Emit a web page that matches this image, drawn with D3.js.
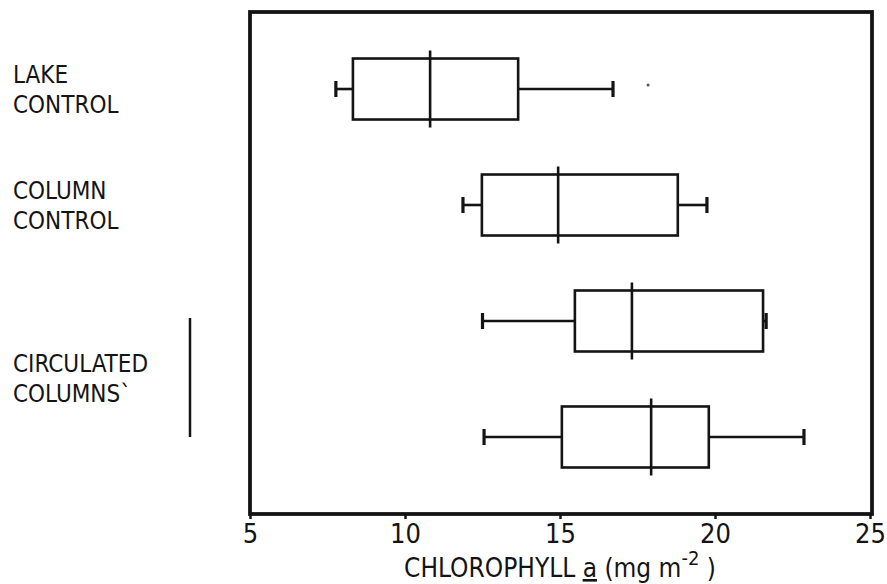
<!DOCTYPE html>
<html>
<head>
<meta charset="utf-8">
<script src="https://cdn.jsdelivr.net/npm/d3@7"></script>
<style>
  html, body { margin: 0; padding: 0; background: #fff; }
  svg text { font-family: "DejaVu Sans Condensed", "DejaVu Sans", sans-serif; font-stretch: condensed; fill: #141414; }
</style>
</head>
<body>
<svg id="chart" width="887" height="584"></svg>
<script>
// ---- data ----
const boxIds   = ["lake", "column", "circ1", "circ2"];
const whiskLo  = [7.77, 11.87, 12.50, 12.55];
const q1       = [8.32, 12.48, 15.48, 15.06];
const median   = [10.81, 14.94, 17.32, 17.94];
const q3       = [13.65, 18.80, 21.55, 19.80];
const whiskHi  = [16.71, 19.74, 21.65, 22.87];
const outliers = [{id: "lake", v: 17.84}];
const groupLabels = [
  {lines: ["LAKE", "CONTROL"], ids: ["lake"]},
  {lines: ["COLUMN", "CONTROL"], ids: ["column"]},
  {lines: ["CIRCULATED", "COLUMNS`"], ids: ["circ1", "circ2"], bracket: true}
];
const tickValues = [5, 10, 15, 20, 25];
const xDomain = [5, 25];

// ---- layout ----
const svg = d3.select("#chart");
const mLeft = 250, mRight = 870, mTop = 12, mBottom = 514;
const ink = "#141414";

const x = d3.scaleLinear().domain(xDomain).range([mLeft, mRight]);
const y = d3.scalePoint().domain(boxIds).range([mTop, mBottom]).padding(0.664);
const boxH = 61, capH = 16, medExt = 8;

// frame
svg.append("rect")
  .attr("x", mLeft).attr("y", mTop)
  .attr("width", mRight - mLeft + 2).attr("height", mBottom - mTop)
  .attr("fill", "none").attr("stroke", ink).attr("stroke-width", 3.8);

// axis
const axis = d3.axisBottom(x).tickValues(tickValues).tickSize(5).tickPadding(5).tickFormat(d3.format("d"));
const gAxis = svg.append("g").attr("transform", `translate(0,${mBottom})`).call(axis);
gAxis.select(".domain").remove();
gAxis.selectAll(".tick line").attr("stroke", ink).attr("stroke-width", 2.5);
gAxis.selectAll(".tick text").attr("font-size", 27).attr("fill", ink)
  .style("font-family", '"DejaVu Sans Condensed", "DejaVu Sans", sans-serif');

// boxes
const data = boxIds.map((id, i) => ({id, lo: whiskLo[i], q1: q1[i], med: median[i], q3: q3[i], hi: whiskHi[i]}));
const g = svg.append("g").attr("stroke", ink).attr("stroke-width", 2.6).attr("fill", "none");
const b = g.selectAll("g.box").data(data).join("g").attr("class", "box");
b.append("line").attr("x1", d => x(d.lo)).attr("x2", d => x(d.q1)).attr("y1", d => y(d.id)).attr("y2", d => y(d.id));
b.append("line").attr("x1", d => x(d.q3)).attr("x2", d => x(d.hi)).attr("y1", d => y(d.id)).attr("y2", d => y(d.id));
b.append("line").attr("x1", d => x(d.lo)).attr("x2", d => x(d.lo)).attr("y1", d => y(d.id) - capH / 2).attr("y2", d => y(d.id) + capH / 2).attr("stroke-width", 3.2);
b.append("line").attr("x1", d => x(d.hi)).attr("x2", d => x(d.hi)).attr("y1", d => y(d.id) - capH / 2).attr("y2", d => y(d.id) + capH / 2).attr("stroke-width", 3.2);
b.append("rect").attr("x", d => x(d.q1)).attr("width", d => x(d.q3) - x(d.q1))
  .attr("y", d => y(d.id) - boxH / 2).attr("height", boxH).attr("fill", "#fff");
b.append("line").attr("x1", d => x(d.med)).attr("x2", d => x(d.med))
  .attr("y1", d => y(d.id) - boxH / 2 - medExt).attr("y2", d => y(d.id) + boxH / 2 + medExt);

// outliers
svg.selectAll("circle.out").data(outliers).join("circle").attr("class", "out")
  .attr("cx", d => x(d.v)).attr("cy", d => y(d.id) - 4).attr("r", 1.5).attr("fill", "#555");

// group labels
const lineH = 30;
groupLabels.forEach(gl => {
  const ys = gl.ids.map(id => y(id));
  const mid = (d3.min(ys) + d3.max(ys)) / 2;
  const capTop = mid - 23.5;
  const t = svg.append("text").attr("x", 13).attr("font-size", 24);
  gl.lines.forEach((ln, i) => {
    t.append("tspan").attr("x", 13).attr("y", capTop + 17 + i * lineH).text(ln);
  });
  if (gl.bracket) {
    svg.append("line").attr("x1", 190).attr("x2", 190)
      .attr("y1", d3.min(ys) - 3).attr("y2", d3.max(ys))
      .attr("stroke", ink).attr("stroke-width", 2.5);
  }
});

// axis title
const title = svg.append("text").attr("x", x(15)).attr("y", 577).attr("text-anchor", "middle").attr("font-size", 26);
title.append("tspan").text("CHLOROPHYLL ");
title.append("tspan").attr("text-decoration", "underline").style("text-decoration", "underline").text("a");
title.append("tspan").text("  (mg m");
title.append("tspan").attr("font-size", 20).attr("dy", -12).text("-2");
title.append("tspan").attr("dy", 12).text(" )");
</script>
</body>
</html>
